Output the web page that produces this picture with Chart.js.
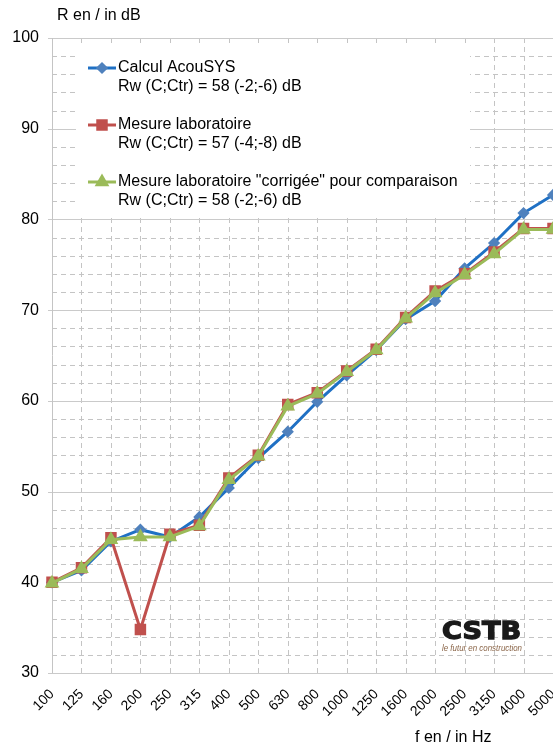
<!DOCTYPE html>
<html>
<head>
<meta charset="utf-8">
<script src="https://cdn.jsdelivr.net/npm/chart.js@4.4.0/dist/chart.umd.min.js"></script>
<style>
  html, body { margin: 0; padding: 0; background: #fff; overflow: hidden; }
  #wrap { position: relative; width: 562px; height: 747px; }
</style>
</head>
<body>
<div id="wrap"><canvas id="chart"></canvas></div>
<script>
  const frequencies = ["100", "125", "160", "200", "250", "315", "400", "500", "630", "800",
    "1000", "1250", "1600", "2000", "2500", "3150", "4000", "5000"];
  const calculAcousys = [40.0, 41.3, 44.5, 45.8, 45.0, 47.2, 50.4, 53.7, 56.6, 59.9,
    62.8, 65.6, 69.0, 71.0, 74.6, 77.4, 80.7, 82.7];
  const mesureLabo = [40.0, 41.6, 44.9, 34.8, 45.3, 46.3, 51.5, 54.0, 59.6, 60.9,
    63.3, 65.7, 69.2, 72.1, 74.0, 76.4, 79.0, 79.0];
  const mesureCorrigee = [39.9, 41.5, 44.7, 45.0, 45.0, 46.2, 51.3, 53.9, 59.4, 60.8,
    63.2, 65.6, 69.1, 71.9, 73.9, 76.2, 78.9, 78.9];
  const legendSubtitles = ["Rw (C;Ctr) = 58 (-2;-6) dB", "Rw (C;Ctr) = 57 (-4;-8) dB", "Rw (C;Ctr) = 58 (-2;-6) dB"];
  const yMin = 30, yMax = 100, yMajor = 10, yMinor = 2;

  const FONT = "'Liberation Sans', Arial, sans-serif";

  const overlay = {
    id: "overlay",
    beforeDatasetsDraw(chart) {
      const ctx = chart.ctx;
      const xs = chart.scales.x, ys = chart.scales.y;
      const area = chart.chartArea;
      ctx.save();
      ctx.lineWidth = 1;
      // dashed minor grid
      ctx.strokeStyle = "#c4c4c4";
      ctx.setLineDash([5, 4]);
      for (let v = yMin; v <= yMax; v += yMinor) {
        if (v % yMajor === 0) continue;
        const y = Math.round(ys.getPixelForValue(v)) + 0.5;
        ctx.beginPath(); ctx.moveTo(area.left, y); ctx.lineTo(area.right, y); ctx.stroke();
      }
      for (let i = 1; i < frequencies.length; i++) {
        const x = Math.round(xs.getPixelForTick(i)) + 0.5;
        ctx.beginPath(); ctx.moveTo(x, area.top); ctx.lineTo(x, area.bottom); ctx.stroke();
      }
      // solid major grid with small outer ticks
      ctx.setLineDash([]);
      ctx.strokeStyle = "#cacaca";
      for (let v = yMin; v <= yMax; v += yMajor) {
        const y = Math.round(ys.getPixelForValue(v)) + 0.5;
        ctx.beginPath(); ctx.moveTo(area.left - 4, y); ctx.lineTo(area.right, y); ctx.stroke();
      }
      ctx.strokeStyle = "#c4c4c4";
      const x0 = Math.round(area.left) + 0.5;
      ctx.beginPath(); ctx.moveTo(x0, area.top); ctx.lineTo(x0, area.bottom); ctx.stroke();

      // legend box inside the plot
      ctx.fillStyle = "#fff";
      ctx.fillRect(76, 44, 394, 171);
      const rows = [68, 125, 182];
      chart.data.datasets.forEach((ds, i) => {
        const y = rows[i];
        ctx.strokeStyle = ds.borderColor;
        ctx.lineWidth = 3;
        ctx.beginPath();
        ctx.moveTo(88, y);
        ctx.lineTo(116, y);
        ctx.stroke();
        ctx.fillStyle = ds.pointBackgroundColor;
        ctx.strokeStyle = ds.pointBorderColor;
        Chart.helpers.drawPoint(ctx, {
          pointStyle: ds.pointStyle, radius: ds.pointRadius, borderWidth: 1, rotation: 0
        }, 102, y);
        ctx.fillStyle = "#000";
        ctx.font = "16px " + FONT;
        ctx.textBaseline = "middle";
        ctx.textAlign = "left";
        ctx.fillText(ds.label, 118, y);
        ctx.fillText(legendSubtitles[i], 118, y + 18.5);
      });
      ctx.restore();
    },
    afterDraw(chart) {
      const ctx = chart.ctx;
      ctx.save();
      ctx.fillStyle = "#000";
      ctx.font = "16px " + FONT;
      ctx.textBaseline = "middle";
      ctx.textAlign = "left";
      ctx.fillText("R en / in dB", 57, 16);
      ctx.fillText("f en / in Hz", 415, 738);
      // logo
      ctx.fillStyle = "#1a1a1a";
      ctx.strokeStyle = "#1a1a1a";
      ctx.lineWidth = 1.3;
      ctx.font = "bold 24px 'DejaVu Sans', sans-serif";
      ctx.textBaseline = "alphabetic";
      ctx.save();
      ctx.translate(442, 639);
      ctx.scale(1.13, 1);
      ctx.fillText("CSTB", 0, 0);
      ctx.strokeText("CSTB", 0, 0);
      ctx.restore();
      ctx.fillStyle = "#8a6548";
      ctx.font = "italic 9px " + FONT;
      ctx.fillText("le futur en construction", 442, 651, 80);
      ctx.restore();
    }
  };

  new Chart(document.getElementById("chart"), {
    type: "line",
    data: {
      labels: frequencies,
      datasets: [
        {
          label: "Calcul AcouSYS",
          data: calculAcousys,
          borderColor: "#1f70c4",
          pointBackgroundColor: "#4f81bd",
          pointBorderColor: "#4f81bd",
          pointStyle: "rectRot",
          pointRadius: 4,
          borderWidth: 3,
          order: 3
        },
        {
          label: "Mesure laboratoire",
          data: mesureLabo,
          borderColor: "#c0504d",
          pointBackgroundColor: "#c0504d",
          pointBorderColor: "#c0504d",
          pointStyle: "rect",
          pointRadius: 6,
          borderWidth: 3,
          order: 2
        },
        {
          label: "Mesure laboratoire \"corrigée\" pour comparaison",
          data: mesureCorrigee,
          borderColor: "#9bbb59",
          pointBackgroundColor: "#9bbb59",
          pointBorderColor: "#9bbb59",
          pointStyle: "triangle",
          pointRadius: 5.5,
          borderWidth: 3,
          order: 1
        }
      ]
    },
    options: {
      responsive: true,
      maintainAspectRatio: false,
      animation: false,
      layout: { padding: { top: 38, bottom: 24, left: 0, right: 0 } },
      plugins: { legend: { display: false }, tooltip: { enabled: false } },
      elements: { line: { tension: 0 } },
      scales: {
        x: {
          offset: false,
          grid: { display: false },
          border: { display: false },
          ticks: {
            autoSkip: false, maxRotation: 45, minRotation: 45, padding: 5,
            color: "#000", font: { family: FONT, size: 14 }
          },
          afterFit(s) { s.height = 50; s.paddingLeft = 0; s.paddingRight = 0; }
        },
        y: {
          min: yMin, max: yMax,
          grid: { display: false },
          border: { display: false },
          ticks: {
            stepSize: yMajor, autoSkip: false, padding: 5,
            color: "#000", font: { family: FONT, size: 16 }
          },
          afterFit(s) { s.width = 52; s.paddingTop = 0; s.paddingBottom = 0; }
        }
      }
    },
    plugins: [overlay]
  });
</script>
</body>
</html>
